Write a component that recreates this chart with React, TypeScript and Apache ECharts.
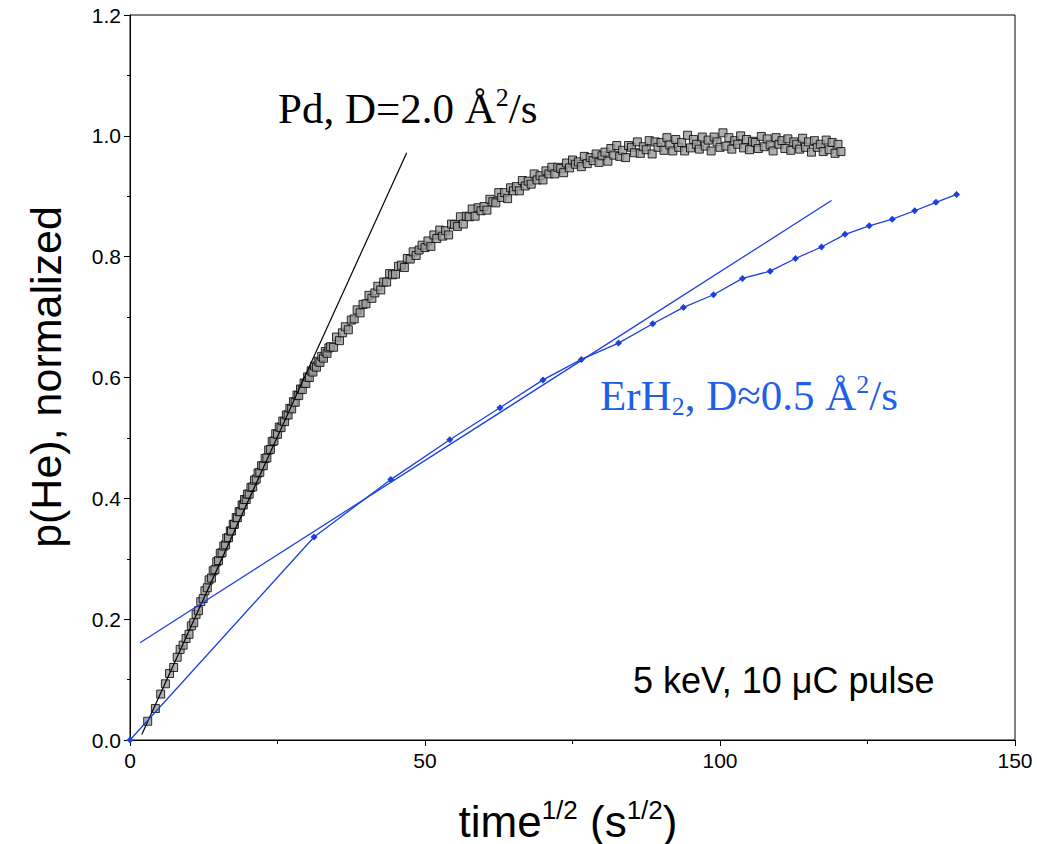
import React, { useEffect, useRef } from "react";
import * as echarts from "echarts";

// ---- data ----
const xTicks = [0, 50, 100, 150];
const yTicks = [0, 0.2, 0.4, 0.6, 0.8, 1.0, 1.2];

// Pd measurement (open squares): [time^1/2, p(He) normalized]
const pdPoints: [number, number][] = [
  [3.0, 0.031], [4.3, 0.052], [5.2, 0.076], [6.0, 0.093], [6.7, 0.110], [7.4, 0.120],
  [8.0, 0.137], [8.5, 0.150], [9.0, 0.157], [9.5, 0.168], [10.0, 0.175], [10.4, 0.189],
  [10.8, 0.194], [11.2, 0.208], [11.6, 0.214], [12.0, 0.229], [12.4, 0.234], [12.7, 0.247],
  [13.1, 0.252], [13.4, 0.265], [13.8, 0.268], [14.1, 0.280], [14.4, 0.282], [14.7, 0.295],
  [15.0, 0.297], [15.3, 0.309], [15.6, 0.310], [15.9, 0.321], [16.2, 0.323], [16.4, 0.334],
  [16.7, 0.335], [17.0, 0.346], [17.2, 0.346], [17.5, 0.357], [17.7, 0.357], [18.0, 0.368],
  [18.2, 0.368], [18.5, 0.378], [18.7, 0.378], [19.0, 0.389], [19.2, 0.389], [19.4, 0.398],
  [19.7, 0.398], [19.9, 0.407], [20.2, 0.407], [20.5, 0.418], [20.8, 0.419], [21.1, 0.430],
  [21.4, 0.432], [21.7, 0.442], [22.0, 0.443], [22.3, 0.454], [22.6, 0.454], [22.9, 0.466],
  [23.2, 0.467], [23.5, 0.480], [23.8, 0.481], [24.1, 0.494], [24.4, 0.495], [24.7, 0.507],
  [25.0, 0.506], [25.3, 0.518], [25.6, 0.517], [25.9, 0.528], [26.2, 0.527], [26.5, 0.538],
  [26.8, 0.538], [27.1, 0.549], [27.4, 0.548], [27.7, 0.560], [28.0, 0.559], [28.3, 0.571],
  [28.6, 0.570], [28.9, 0.581], [29.2, 0.580], [29.5, 0.591], [29.8, 0.590], [30.1, 0.601],
  [30.4, 0.600], [30.7, 0.611], [31.0, 0.609], [31.3, 0.619], [31.6, 0.617], [31.9, 0.627],
  [32.2, 0.625], [32.5, 0.635], [32.8, 0.632], [33.1, 0.643], [33.4, 0.640], [33.7, 0.649],
  [34.0, 0.651], [34.5, 0.650], [35.0, 0.667], [35.5, 0.661], [36.0, 0.674], [36.5, 0.684],
  [37.0, 0.679], [37.5, 0.695], [38.0, 0.697], [38.5, 0.712], [39.0, 0.707], [39.5, 0.721],
  [40.0, 0.722], [40.5, 0.736], [41.0, 0.731], [41.5, 0.740], [42.0, 0.751], [42.5, 0.745],
  [43.0, 0.758], [43.5, 0.758], [44.0, 0.772], [44.5, 0.770], [45.0, 0.771], [45.5, 0.784],
  [46.0, 0.786], [46.5, 0.782], [47.0, 0.797], [47.5, 0.796], [48.0, 0.808], [48.5, 0.802],
  [49.0, 0.811], [49.5, 0.819], [50.0, 0.815], [50.5, 0.826], [51.0, 0.817], [51.5, 0.836],
  [52.0, 0.830], [52.5, 0.844], [53.0, 0.834], [53.5, 0.843], [54.0, 0.836], [54.5, 0.854],
  [55.0, 0.853], [55.5, 0.850], [56.0, 0.866], [56.5, 0.854], [57.0, 0.867], [57.5, 0.866],
  [58.0, 0.879], [58.5, 0.867], [59.0, 0.881], [59.5, 0.876], [60.0, 0.883], [60.5, 0.877],
  [61.0, 0.895], [61.5, 0.891], [62.0, 0.889], [62.5, 0.906], [63.0, 0.898], [63.5, 0.906],
  [64.0, 0.896], [64.5, 0.914], [65.0, 0.909], [65.5, 0.916], [66.0, 0.909], [66.5, 0.926],
  [67.0, 0.917], [67.5, 0.925], [68.0, 0.920], [68.5, 0.937], [69.0, 0.927], [69.5, 0.934],
  [70.0, 0.927], [70.5, 0.942], [71.0, 0.937], [71.5, 0.948], [72.0, 0.937], [72.5, 0.948],
  [73.0, 0.946], [73.5, 0.939], [74.0, 0.955], [74.5, 0.947], [75.0, 0.960], [75.5, 0.953],
  [76.0, 0.957], [76.5, 0.949], [77.0, 0.966], [77.5, 0.954], [78.0, 0.964], [78.5, 0.959],
  [79.0, 0.970], [79.5, 0.956], [80.0, 0.967], [80.5, 0.973], [81.0, 0.958], [81.5, 0.979],
  [82.0, 0.968], [82.5, 0.984], [83.0, 0.966], [83.5, 0.976], [84.0, 0.964], [84.5, 0.984],
  [85.0, 0.981], [85.5, 0.972], [86.0, 0.990], [86.5, 0.971], [87.0, 0.982], [87.5, 0.977],
  [88.0, 0.992], [88.5, 0.970], [89.0, 0.990], [89.5, 0.981], [90.0, 0.989], [90.5, 0.976],
  [91.0, 0.997], [91.5, 0.985], [92.0, 0.975], [92.5, 0.994], [93.0, 0.981], [93.5, 0.989],
  [94.0, 0.975], [94.5, 1.001], [95.0, 0.980], [95.5, 0.994], [96.0, 0.986], [96.5, 0.978],
  [97.0, 0.998], [97.5, 0.983], [98.0, 0.993], [98.5, 0.975], [99.0, 0.998], [99.5, 0.990],
  [100.0, 0.981], [100.5, 1.005], [101.0, 0.983], [101.5, 0.997], [102.0, 0.978], [102.5, 0.992],
  [103.0, 0.986], [103.5, 1.000], [104.0, 0.980], [104.5, 0.994], [105.0, 0.977], [105.5, 0.991],
  [106.0, 0.989], [106.5, 0.979], [107.0, 0.999], [107.5, 0.982], [108.0, 0.995], [108.5, 0.985],
  [109.0, 0.975], [109.5, 0.997], [110.0, 0.986], [110.5, 0.992], [111.0, 0.979], [111.5, 0.995],
  [112.0, 0.976], [112.5, 0.990], [113.0, 0.986], [113.5, 0.978], [114.0, 0.996], [114.5, 0.981],
  [115.0, 0.990], [115.5, 0.973], [116.0, 0.992], [116.5, 0.981], [117.0, 0.986], [117.5, 0.974],
  [118.0, 0.993], [118.5, 0.977], [119.0, 0.989], [119.5, 0.971], [120.0, 0.986], [120.5, 0.974],
];

// Pd linear fit (D = 2.0)
const pdFit: [number, number][] = [[2.0, 0.009], [46.9, 0.972]];

// ErH2 measurement (diamonds)
const erPoints: [number, number][] = [
  [0, 0], [31.2, 0.336], [44.2, 0.431], [54.2, 0.497], [62.7, 0.550], [70.0, 0.596],
  [76.5, 0.630], [82.8, 0.657], [88.6, 0.689], [93.8, 0.716], [98.9, 0.737], [103.8, 0.764],
  [108.5, 0.776], [112.8, 0.797], [117.2, 0.816], [121.2, 0.837], [125.3, 0.851],
  [129.2, 0.862], [133.0, 0.876], [136.6, 0.890], [140.1, 0.903],
];

// ErH2 linear fit (D ≈ 0.5)
const erFit: [number, number][] = [[1.7, 0.161], [118.9, 0.893]];

const BLUE = "#1c40e0";
const BLUE_TEXT = "#1f60e8";
const SANS = "'Liberation Sans', Arial, Helvetica, sans-serif";
const SERIF = "'Liberation Serif', 'Times New Roman', serif";

export default function App() {
  const ref = useRef<HTMLDivElement>(null);

  useEffect(() => {
    if (!ref.current) return;
    const chart = echarts.init(ref.current, null, { renderer: "svg" });

    const option: any = {
      animation: false,
      backgroundColor: "#fff",
      grid: {
        left: 130,
        right: 22,
        top: 15,
        bottom: 104,
        show: true,
        borderColor: "#000",
        borderWidth: 1,
        backgroundColor: "transparent",
      },
      xAxis: {
        type: "value",
        min: xTicks[0],
        max: xTicks[xTicks.length - 1],
        interval: 50,
        axisLine: { show: true, onZero: false, lineStyle: { color: "#000", width: 1 } },
        axisTick: { show: true, inside: false, length: 6, lineStyle: { color: "#000" } },
        minorTick: { show: true, splitNumber: 2, length: 4, lineStyle: { color: "#000" } },
        splitLine: { show: false },
        axisLabel: { color: "#000", fontSize: 21, fontFamily: SANS, margin: 10 },
      },
      yAxis: {
        type: "value",
        min: yTicks[0],
        max: yTicks[yTicks.length - 1],
        interval: 0.2,
        axisLine: { show: true, onZero: false, lineStyle: { color: "#000", width: 1 } },
        axisTick: { show: true, inside: false, length: 6, lineStyle: { color: "#000" } },
        minorTick: { show: true, splitNumber: 2, length: 3, lineStyle: { color: "#000" } },
        splitLine: { show: false },
        axisLabel: {
          color: "#000",
          fontSize: 21,
          fontFamily: SANS,
          margin: 9,
          formatter: (v: number) => v.toFixed(1),
        },
      },
      series: [
        {
          name: "Pd",
          type: "scatter",
          data: pdPoints,
          symbol: "rect",
          symbolSize: 8,
          itemStyle: { color: "#9a9a9a", borderColor: "#000", borderWidth: 1 },
          z: 2,
        },
        {
          name: "Pd fit",
          type: "line",
          data: pdFit,
          showSymbol: false,
          symbol: "none",
          lineStyle: { color: "#000", width: 1.2 },
          z: 3,
        },
        {
          name: "ErH2 fit",
          type: "line",
          data: erFit,
          showSymbol: false,
          symbol: "none",
          lineStyle: { color: BLUE, width: 1.3 },
          z: 3,
        },
        {
          name: "ErH2",
          type: "line",
          data: erPoints,
          symbol: "diamond",
          symbolSize: 7,
          showSymbol: true,
          itemStyle: { color: BLUE },
          lineStyle: { color: BLUE, width: 1.3 },
          z: 4,
        },
      ],
      graphic: [
        {
          type: "text",
          left: 278,
          top: 84,
          style: {
            text: "{m|Pd, D=2.0 Å}{s|2}{m|/s}",
            fill: "#000",
            rich: {
              m: { fontFamily: SERIF, fontSize: 43, lineHeight: 48, fill: "#000" },
              s: { fontFamily: SERIF, fontSize: 26, lineHeight: 40, verticalAlign: "top", fill: "#000" },
            },
          },
        },
        {
          type: "text",
          left: 600,
          top: 371,
          style: {
            text: "{m|ErH}{b|2}{m|, D≈0.5 Å}{s|2}{m|/s}",
            fill: BLUE_TEXT,
            rich: {
              m: { fontFamily: SERIF, fontSize: 43, lineHeight: 48, fill: BLUE_TEXT },
              s: { fontFamily: SERIF, fontSize: 26, lineHeight: 40, verticalAlign: "top", fill: BLUE_TEXT },
              b: { fontFamily: SERIF, fontSize: 26, lineHeight: 24, verticalAlign: "bottom", fill: BLUE_TEXT },
            },
          },
        },
        {
          type: "text",
          left: 633,
          top: 662,
          style: {
            text: "5 keV, 10 μC pulse",
            fill: "#000",
            fontFamily: SANS,
            fontSize: 36,
          },
        },
        {
          type: "text",
          x: 568,
          y: 821,
          style: {
            text: "{m|time}{s|1/2}{m| (s}{s|1/2}{m|)}",
            align: "center",
            verticalAlign: "middle",
            fill: "#000",
            rich: {
              m: { fontFamily: SANS, fontSize: 44, lineHeight: 48, fill: "#000" },
              s: { fontFamily: SANS, fontSize: 26, lineHeight: 38, verticalAlign: "top", fill: "#000" },
            },
          },
        },
        {
          type: "text",
          x: 46,
          y: 377,
          rotation: Math.PI / 2,
          style: {
            text: "p(He), normalized",
            align: "center",
            verticalAlign: "middle",
            fill: "#000",
            fontFamily: SANS,
            fontSize: 43,
          },
        },
      ],
    };

    chart.setOption(option);
    return () => {
      chart.dispose();
    };
  }, []);

  return (
    <div
      ref={ref}
      style={{ position: "fixed", left: 0, top: 0, width: 1037, height: 844, background: "#fff" }}
    />
  );
}
